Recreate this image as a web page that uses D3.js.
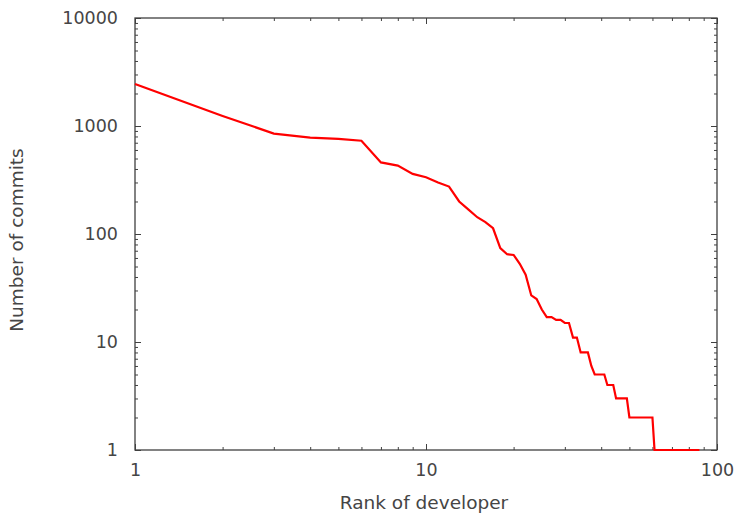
<!DOCTYPE html>
<html>
<head>
<meta charset="utf-8">
<script src="https://cdn.jsdelivr.net/npm/d3@7"></script>
<style>
  html, body { margin: 0; padding: 0; background: #fff; }
  text { font-family: "DejaVu Sans", sans-serif; fill: #454545; }
</style>
</head>
<body>
<svg id="chart" width="735" height="515"></svg>
<script>
// commits per developer, ordered by rank (rank = position + 1)
const commits = [
  2450, 1240, 850, 780, 760, 730, 460, 430, 360, 335,
  300, 275, 200, 168, 143, 129, 113, 74, 65, 64,
  53, 42, 27, 25, 20, 17, 17, 16, 16, 15,
  15, 11, 11, 8, 8, 8, 6, 5, 5, 5,
  5, 4, 4, 4, 3, 3, 3, 3, 3, 2,
  2, 2, 2, 2, 2, 2, 2, 2, 2, 2,
  1, 1, 1, 1, 1, 1, 1, 1, 1, 1,
  1, 1, 1, 1, 1, 1, 1, 1, 1, 1,
  1, 1, 1, 1, 1, 1, 1
];
const xMajor = [1, 10, 100];
const xMinor = [2, 3, 4, 5, 6, 7, 8, 9, 20, 30, 40, 50, 60, 70, 80, 90];
const yMajor = [1, 10, 100, 1000, 10000];
const yMinor = [];
[1, 10, 100, 1000].forEach(d => [2, 3, 4, 5, 6, 7, 8, 9].forEach(m => yMinor.push(d * m)));

const mLeft = 135, mRight = 717, mTop = 18, mBottom = 450;

const svg = d3.select("#chart");

const x = d3.scaleLog().domain([1, 100]).range([mLeft, mRight]);
const y = d3.scaleLog().domain([1, 10000]).range([mBottom, mTop]);

const fmt = d3.format("d");

// major ticks + labels
svg.append("g")
  .attr("transform", `translate(0,${mBottom})`)
  .call(d3.axisBottom(x).tickValues(xMajor).tickFormat(fmt).tickSize(-6).tickPadding(14));
svg.append("g")
  .attr("transform", `translate(${mLeft},0)`)
  .call(d3.axisLeft(y).tickValues(yMajor).tickFormat(fmt).tickSize(-6).tickPadding(17));
svg.append("g")
  .attr("transform", `translate(0,${mTop})`)
  .call(d3.axisTop(x).tickValues(xMajor).tickFormat("").tickSize(-6));
svg.append("g")
  .attr("transform", `translate(${mRight},0)`)
  .call(d3.axisRight(y).tickValues(yMajor).tickFormat("").tickSize(-6));

// minor ticks
svg.append("g")
  .attr("transform", `translate(0,${mBottom})`)
  .call(d3.axisBottom(x).tickValues(xMinor).tickFormat("").tickSize(-3));
svg.append("g")
  .attr("transform", `translate(0,${mTop})`)
  .call(d3.axisTop(x).tickValues(xMinor).tickFormat("").tickSize(-3));
svg.append("g")
  .attr("transform", `translate(${mLeft},0)`)
  .call(d3.axisLeft(y).tickValues(yMinor).tickFormat("").tickSize(-3));
svg.append("g")
  .attr("transform", `translate(${mRight},0)`)
  .call(d3.axisRight(y).tickValues(yMinor).tickFormat("").tickSize(-3));

svg.selectAll(".domain").remove();
svg.selectAll(".tick line").attr("stroke", "#404040");
svg.selectAll(".tick text")
  .attr("font-size", 17.5)
  .attr("font-family", "DejaVu Sans, sans-serif")
  .attr("fill", "#454545");

// border
svg.append("rect")
  .attr("x", mLeft).attr("y", mTop)
  .attr("width", mRight - mLeft).attr("height", mBottom - mTop)
  .attr("fill", "none")
  .attr("stroke", "#404040")
  .attr("stroke-width", 1.3);

// data line
const line = d3.line()
  .x((d, i) => x(i + 1))
  .y(d => y(d));

svg.append("path")
  .datum(commits)
  .attr("fill", "none")
  .attr("stroke", "#ff0000")
  .attr("stroke-width", 2.2)
  .attr("d", line);

// axis titles
svg.append("text")
  .attr("x", 424)
  .attr("y", 509)
  .attr("text-anchor", "middle")
  .attr("font-size", 18.5)
  .text("Rank of developer");

svg.append("text")
  .attr("transform", `translate(23,240) rotate(-90)`)
  .attr("text-anchor", "middle")
  .attr("font-size", 18.5)
  .text("Number of commits");
</script>
</body>
</html>
